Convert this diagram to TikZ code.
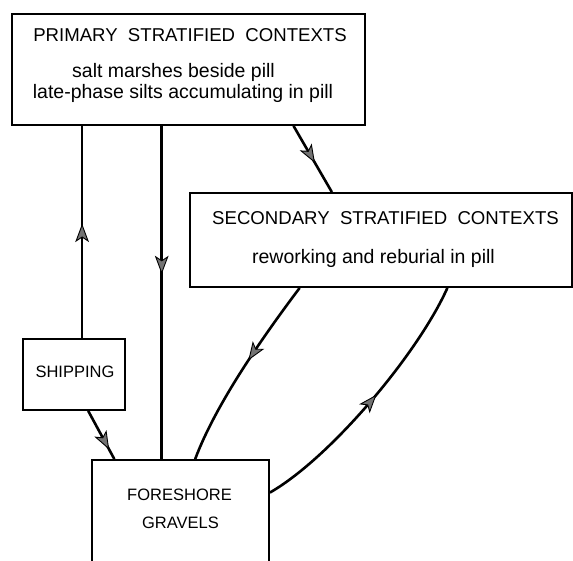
\documentclass[tikz,border=0pt]{standalone}
\usepackage{fontspec}
\setmainfont{Liberation Sans}
\usetikzlibrary{decorations.markings,calc}
\tikzset{
  arrowhd/.pic={\filldraw[fill=black!55, draw=black, line width=0.9pt, line join=miter]
        (7pt,0pt) -- (-9pt,6pt) -- (-5pt,0pt) -- (-9pt,-6pt) -- cycle;},
  mid/.style={postaction={decorate},decoration={markings,
     mark=at position #1 with {\pic[transform shape]{arrowhd};}}}
}
\begin{document}
\begin{tikzpicture}[x=1pt,y=-1pt,
  box/.style={draw, line width=1.8pt, inner sep=0pt},
  flow/.style={line width=2.6pt},
  title/.style={font=\fontsize{18.6}{22}\selectfont},
  lower/.style={font=\fontsize{19.5}{23}\selectfont},
  caps/.style={font=\fontsize{16.5}{19}\selectfont}]
\useasboundingbox (0,0) rectangle (573,560);
% boxes
\node[box, minimum width=353pt, minimum height=111pt] (prim) at (188.5,69.5) {};
\node[box, minimum width=382pt, minimum height=94pt] (sec) at (381,240) {};
\node[box, minimum width=102pt, minimum height=71pt] (ship) at (74,374.5) {};
\node[box, minimum width=177pt, minimum height=130pt] (fore) at (180.5,525) {};
% texts
\node[title] (pt) at (190,35) {PRIMARY\ \ STRATIFIED\ \ CONTEXTS};
\node[lower] (pl1) at (173.5,72) {salt marshes beside pill};
\node[lower] (pl2) at (183,93) {late-phase silts accumulating in pill};
\node[title] (st) at (385.5,218) {SECONDARY\ \ STRATIFIED\ \ CONTEXTS};
\node[lower] (sl1) at (373.5,258) {reworking and reburial in pill};
\node[caps] (sh) at (75,372) {SHIPPING};
\node[caps] (f1) at (179.5,495) {FORESHORE};
\node[caps] (f2) at (180.5,523) {GRAVELS};
% anchor points
\coordinate (sA) at ($(ship.north west)!0.578!(ship.north east)$);
\coordinate (fA) at ($(fore.north west)!0.395!(fore.north east)$);
\coordinate (pB) at ($(prim.south west)!0.796!(prim.south east)$);
\coordinate (sT) at ($(sec.north west)!0.372!(sec.north east)$);
\coordinate (shB) at ($(ship.south west)!0.637!(ship.south east)$);
\coordinate (fT1) at ($(fore.north west)!0.13!(fore.north east)$);
\coordinate (sB1) at ($(sec.south west)!0.288!(sec.south east)$);
\coordinate (fT2) at ($(fore.north west)!0.582!(fore.north east)$);
\coordinate (fR) at ($(fore.north east)!0.254!(fore.south east)$);
\coordinate (sB2) at ($(sec.south west)!0.673!(sec.south east)$);
% connectors
\draw[flow,mid=0.5] (sA) -- (sA |- prim.south);
\draw[flow,mid=0.42] (fA |- prim.south) -- (fA);
\draw[flow,mid=0.45] (pB) -- (sT);
\draw[flow,mid=0.65] (shB) -- (fT1);
\draw[flow,mid=0.4] (sB1) .. controls +(-36,48) and +(21,-56) .. (fT2);
\draw[flow,mid=0.5] (fR) .. controls +(61,-35) and +(-29,65) .. (sB2);
\end{tikzpicture}
\end{document}
